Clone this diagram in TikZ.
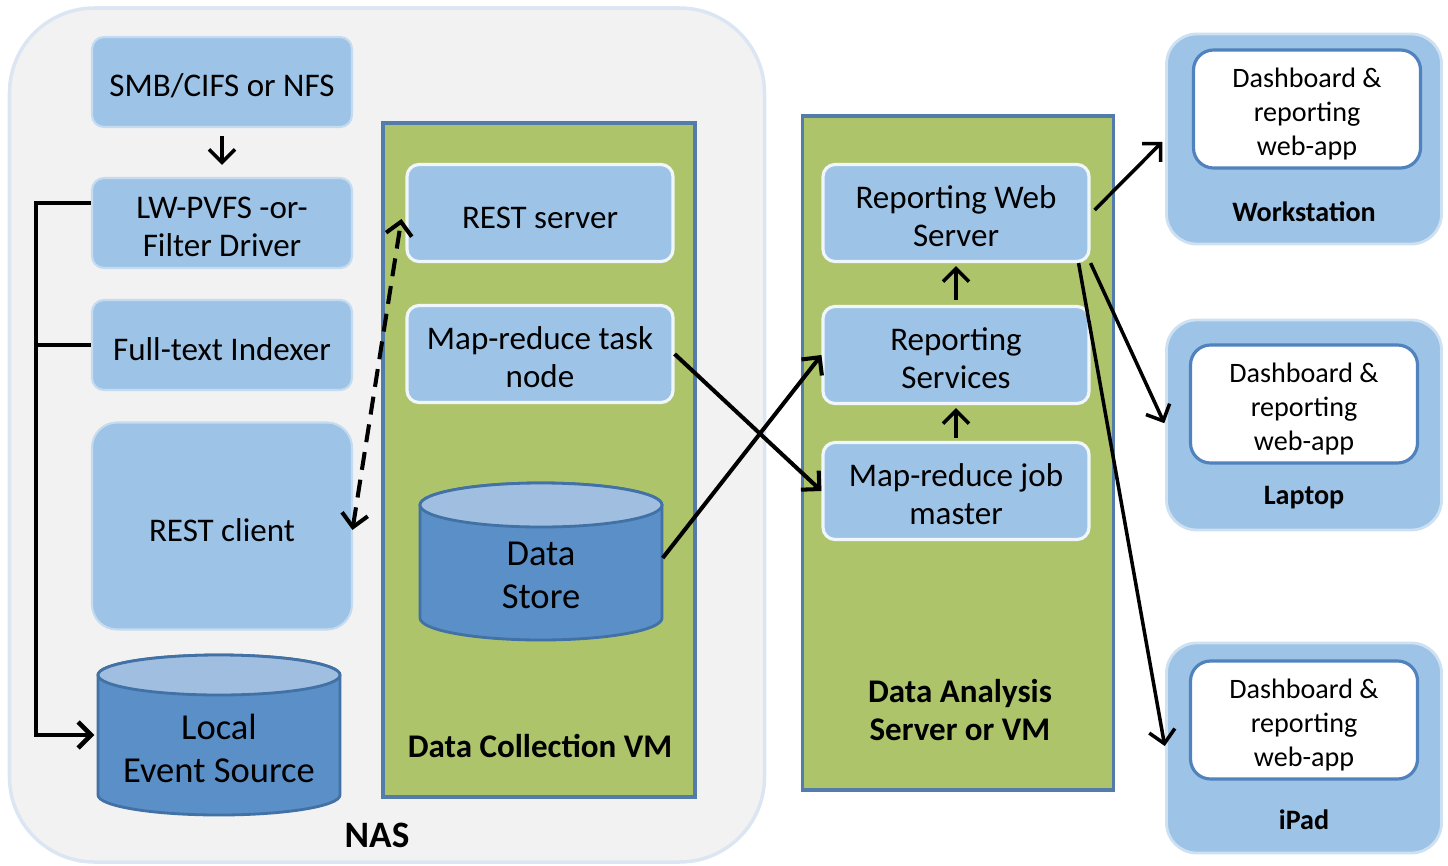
\documentclass[tikz,border=0pt]{standalone}
\usepackage{fontspec}
\setmainfont{Carlito}
\usetikzlibrary{arrows.meta}

\definecolor{nasfill}{RGB}{242,242,242}
\definecolor{nasedge}{RGB}{220,230,242}
\definecolor{partblue}{RGB}{157,195,230}
\definecolor{vmgreen}{RGB}{173,196,107}
\definecolor{vmedge}{RGB}{84,124,170}
\definecolor{dbbody}{RGB}{91,143,199}
\definecolor{dbtop}{RGB}{160,190,224}
\definecolor{dbedge}{RGB}{65,113,165}
\definecolor{appedge}{RGB}{80,130,190}

\tikzset{
  part/.style={rounded corners=1.2mm, fill=partblue, draw=partblue!60!white, line width=0.6pt,
    minimum width=26mm, minimum height=9mm, align=center, inner sep=1pt,
    font=\fontsize{9.4}{10.9}\selectfont, text height=8.7pt},
  twoline/.style={text height=19.4pt},
  vmpart/.style={part, draw=white!85!partblue, line width=0.9pt, minimum width=26.6mm, minimum height=9.7mm},
  vmbox/.style={fill=vmgreen, draw=vmedge, line width=0.9pt, minimum width=31.2mm, minimum height=67.4mm},
  device/.style={rounded corners=3mm, fill=partblue, draw=partblue!50!white, line width=0.8pt,
    minimum width=27.5mm, minimum height=21mm},
  webapp/.style={rounded corners=2mm, fill=white, draw=appedge, line width=0.9pt,
    minimum width=22.7mm, minimum height=11.8mm, align=center, inner sep=1pt,
    font=\fontsize{8}{9.8}\selectfont, text height=28pt},
  boxlabel/.style={font=\bfseries\fontsize{9.4}{10.9}\selectfont, align=center},
  devlabel/.style={font=\bfseries\fontsize{8}{9.8}\selectfont},
  dbtext/.style={align=center, font=\fontsize{10.4}{12.2}\selectfont, minimum width=24.2mm, inner sep=0pt},
  link/.style={->, line width=1.15pt},
  thinlink/.style={->, line width=1pt},
  >={Straight Barb[length=1.3mm,width=2.6mm]}
}

\begin{document}
\begin{tikzpicture}[x=0.1mm, y=-0.1mm]
    \useasboundingbox (0,0) rectangle (1448,865);

    % NAS
    \node[rounded corners=8.5mm, fill=nasfill, draw=nasedge, line width=1pt,
      minimum width=75.5mm, minimum height=85.4mm] (nas) at (387,435) {};
    \node[font=\bfseries\fontsize{10.6}{12}\selectfont] (naslabel) at (377,835) {NAS};
    \node[part] (smb) at (222,82) {SMB/CIFS or NFS};
    \node[part, twoline] (lw) at (222,223) {LW-PVFS -or-\\Filter Driver};
    \node[part] (fti) at (222,345) {Full-text Indexer};
    \node[part, rounded corners=2.5mm, minimum height=20.7mm] (restc) at (222,526) {REST client};

    % local event source
    \filldraw[fill=dbbody, draw=dbedge, line width=0.8pt] (98,675) -- (98,795)
      arc[start angle=180, end angle=360, x radius=12.1mm, y radius=2mm] -- (340,675)
      arc[start angle=0, end angle=180, x radius=12.1mm, y radius=2mm] -- cycle;
    \filldraw[fill=dbtop, draw=dbedge, line width=0.8pt] (219,675) ellipse[x radius=12.1mm, y radius=2mm];
    \node[dbtext] (les) at (219,748) {Local\\Event Source};

    % data collection VM
    \node[vmbox] (dcvm) at (539,460) {};
    \node[boxlabel] (dclabel) at (540,746) {Data Collection VM};
    \node[vmpart] (rests) at (540,213) {REST server};
    \node[vmpart, twoline] (mrtask) at (540,354) {Map-reduce task\\node};
    \filldraw[fill=dbbody, draw=dbedge, line width=0.8pt] (420,505) -- (420,618)
      arc[start angle=180, end angle=360, x radius=12.1mm, y radius=2.2mm] -- (662,505)
      arc[start angle=0, end angle=180, x radius=12.1mm, y radius=2.2mm] -- cycle;
    \filldraw[fill=dbtop, draw=dbedge, line width=0.8pt] (541,505) ellipse[x radius=12.1mm, y radius=2.2mm];
    \node[dbtext] (ds) at (541,575) {Data\\Store};

    % data analysis server
    \node[vmbox, minimum width=31.1mm] (dasvm) at (958,453) {};
    \node[boxlabel] (daslabel) at (960,710) {Data Analysis\\Server or VM};
    \node[vmpart, twoline] (rws) at (956,213) {Reporting Web\\Server};
    \node[vmpart, twoline] (rs) at (956,355) {Reporting\\Services};
    \node[vmpart, twoline] (mrjob) at (956,491) {Map-reduce job\\master};

    % clients
    \node[device] (ws) at (1304,139) {};
    \node[webapp] (wsapp) at (1307,109) {Dashboard \&\\reporting\\web-app};
    \node[devlabel] (wslabel) at (1304,212) {Workstation};
    \node[device] (lap) at (1304,425) {};
    \node[webapp] (lapapp) at (1304,404) {Dashboard \&\\reporting\\web-app};
    \node[devlabel] (laplabel) at (1304,498) {Laptop};
    \node[device] (ipad) at (1304,748) {};
    \node[webapp] (ipadapp) at (1304,720) {Dashboard \&\\reporting\\web-app};
    \node[devlabel] (ipadlabel) at (1304,820) {iPad};

    % connectors
    \draw[thinlink, shorten <=0.8mm, shorten >=1.2mm] (smb) -- (lw);
    \draw[link, line width=1.3pt] ([yshift=2mm]lw.west) -- ++(-5.5mm,0) coordinate (bus)
      |- ([yshift=1.3mm, xshift=-0.3mm]les.west);
    \draw[line width=1.3pt] (fti.west) -- (fti.west -| bus);
    \draw[link, <->, dash pattern=on 1.8mm off 1mm, shorten <=-0.4mm]
      (restc.east) -- ([xshift=-0.4mm, yshift=-0.6mm]rests.west);
    \draw[link] (mrtask.east) -- (mrjob.west);
    \draw[link] ([yshift=1.7mm]ds.east) -- (rs.west);
    \draw[thinlink, shorten <=0.3mm, shorten >=0.3mm] (mrjob) -- (rs);
    \draw[thinlink, shorten <=0.5mm, shorten >=0.3mm] (rs) -- (rws);
    \draw[thinlink, shorten >=0.4mm] ([yshift=0.3mm, xshift=0.4mm]rws.east) -- (ws.west);
    \draw[thinlink, shorten >=0.2mm] (rws.south east) -- (lap.west);
    \draw[thinlink, shorten >=0.2mm] ([xshift=-1.2mm]rws.south east) -- (ipad.west);
\end{tikzpicture}
\end{document}
